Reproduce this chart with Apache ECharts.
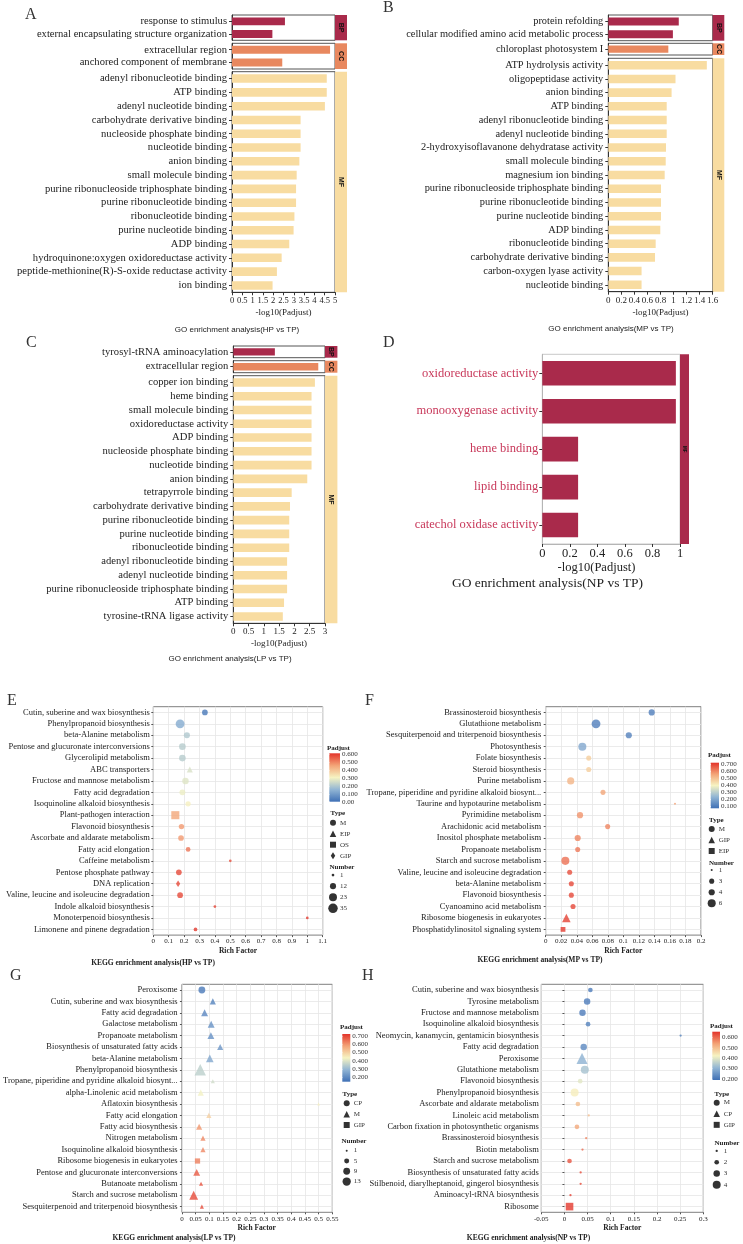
<!DOCTYPE html>
<html>
<head>
<meta charset="utf-8">
<script src="https://cdn.jsdelivr.net/npm/echarts@6/dist/echarts.min.js"></script>
<style>
html,body{margin:0;padding:0;background:#fff}
#main{width:743px;height:1244px}
</style>
</head>
<body>
<div id="main"></div>
<script>
// ---- GO data (-log10 Padjust) ----
var goA_BP_terms = ['response to stimulus', 'external encapsulating structure organization'];
var goA_BP_vals = [2.57, 1.96];
var goA_CC_terms = ['extracellular region', 'anchored component of membrane'];
var goA_CC_vals = [4.76, 2.44];
var goA_MF_terms = ['adenyl ribonucleotide binding', 'ATP binding', 'adenyl nucleotide binding', 'carbohydrate derivative binding',
  'nucleoside phosphate binding', 'nucleotide binding', 'anion binding', 'small molecule binding',
  'purine ribonucleoside triphosphate binding', 'purine ribonucleotide binding', 'ribonucleotide binding',
  'purine nucleotide binding', 'ADP binding', 'hydroquinone:oxygen oxidoreductase activity',
  'peptide-methionine(R)-S-oxide reductase activity', 'ion binding'];
var goA_MF_vals = [4.6, 4.6, 4.51, 3.33, 3.33, 3.33, 3.27, 3.14, 3.11, 3.11, 3.03, 2.99, 2.78, 2.41, 2.18, 1.97];

var goB_BP_terms = ['protein refolding', 'cellular modified amino acid metabolic process'];
var goB_BP_vals = [1.08, 0.99];
var goB_CC_terms = ['chloroplast photosystem I'];
var goB_CC_vals = [0.92];
var goB_MF_terms = ['ATP hydrolysis activity', 'oligopeptidase activity', 'anion binding', 'ATP binding',
  'adenyl ribonucleotide binding', 'adenyl nucleotide binding', '2-hydroxyisoflavanone dehydratase activity',
  'small molecule binding', 'magnesium ion binding', 'purine ribonucleoside triphosphate binding',
  'purine ribonucleotide binding', 'purine nucleotide binding', 'ADP binding', 'ribonucleotide binding',
  'carbohydrate derivative binding', 'carbon-oxygen lyase activity', 'nucleotide binding'];
var goB_MF_vals = [1.51, 1.03, 0.97, 0.895, 0.895, 0.895, 0.884, 0.88, 0.864, 0.808, 0.808, 0.808, 0.797, 0.726, 0.716, 0.51, 0.51];

var goC_BP_terms = ['tyrosyl-tRNA aminoacylation'];
var goC_BP_vals = [1.36];
var goC_CC_terms = ['extracellular region'];
var goC_CC_vals = [2.78];
var goC_MF_terms = ['copper ion binding', 'heme binding', 'small molecule binding', 'oxidoreductase activity',
  'ADP binding', 'nucleoside phosphate binding', 'nucleotide binding', 'anion binding', 'tetrapyrrole binding',
  'carbohydrate derivative binding', 'purine ribonucleotide binding', 'purine nucleotide binding',
  'ribonucleotide binding', 'adenyl ribonucleotide binding', 'adenyl nucleotide binding',
  'purine ribonucleoside triphosphate binding', 'ATP binding', 'tyrosine-tRNA ligase activity'];
var goC_MF_vals = [2.67, 2.56, 2.56, 2.56, 2.56, 2.56, 2.56, 2.42, 1.91, 1.855, 1.83, 1.83, 1.83, 1.76, 1.76, 1.76, 1.66, 1.62];

var goD_MF_terms = ['oxidoreductase activity', 'monooxygenase activity', 'heme binding', 'lipid binding', 'catechol oxidase activity'];
var goD_MF_vals = [0.97, 0.97, 0.26, 0.26, 0.26];

// ---- KEGG data ----
var keggE_terms = ['Cutin, suberine and wax biosynthesis', 'Phenylpropanoid biosynthesis', 'beta-Alanine metabolism',
  'Pentose and glucuronate interconversions', 'Glycerolipid metabolism', 'ABC transporters', 'Fructose and mannose metabolism',
  'Fatty acid degradation', 'Isoquinoline alkaloid biosynthesis', 'Plant-pathogen interaction', 'Flavonoid biosynthesis',
  'Ascorbate and aldarate metabolism', 'Fatty acid elongation', 'Caffeine metabolism', 'Pentose phosphate pathway',
  'DNA replication', 'Valine, leucine and isoleucine degradation', 'Indole alkaloid biosynthesis',
  'Monoterpenoid biosynthesis', 'Limonene and pinene degradation'];
var keggE_rich = [0.335, 0.174, 0.218, 0.189, 0.189, 0.237, 0.209, 0.189, 0.226, 0.143, 0.183, 0.18, 0.226, 0.5, 0.166, 0.161, 0.174, 0.4, 1.0, 0.274];
var keggE_padj = [0.02, 0.13, 0.2, 0.21, 0.21, 0.26, 0.27, 0.29, 0.31, 0.45, 0.47, 0.47, 0.52, 0.57, 0.58, 0.58, 0.58, 0.59, 0.6, 0.6];
var keggE_count = [10, 30, 12, 15, 15, 5, 14, 11, 8, 27, 9, 10, 6, 1, 10, 10, 10, 1, 1, 3];
var keggE_type = ['M', 'M', 'M', 'M', 'M', 'EIP', 'M', 'M', 'M', 'OS', 'M', 'M', 'M', 'M', 'M', 'GIP', 'M', 'M', 'M', 'M'];
var keggE_types = ['M', 'EIP', 'OS', 'GIP'];
var keggE_numTicks = [1, 12, 23, 35];
var keggE_padjTicks = [0, 0.1, 0.2, 0.3, 0.4, 0.5, 0.6];

var keggF_terms = ['Brassinosteroid biosynthesis', 'Glutathione metabolism', 'Sesquiterpenoid and triterpenoid biosynthesis',
  'Photosynthesis', 'Folate biosynthesis', 'Steroid biosynthesis', 'Purine metabolism',
  'Tropane, piperidine and pyridine alkaloid biosynt...', 'Taurine and hypotaurine metabolism', 'Pyrimidine metabolism',
  'Arachidonic acid metabolism', 'Inositol phosphate metabolism', 'Propanoate metabolism', 'Starch and sucrose metabolism',
  'Valine, leucine and isoleucine degradation', 'beta-Alanine metabolism', 'Flavonoid biosynthesis',
  'Cyanoamino acid metabolism', 'Ribosome biogenesis in eukaryotes', 'Phosphatidylinositol signaling system'];
var keggF_rich = [0.1365, 0.0648, 0.107, 0.0472, 0.0554, 0.0554, 0.0322, 0.0738, 0.1665, 0.0442, 0.0798, 0.0412, 0.0412, 0.0253, 0.0309, 0.033, 0.033, 0.0352, 0.0266, 0.0223];
var keggF_padj = [0.1, 0.1, 0.11, 0.2, 0.47, 0.47, 0.52, 0.55, 0.56, 0.58, 0.6, 0.6, 0.62, 0.63, 0.68, 0.69, 0.69, 0.69, 0.7, 0.71];
var keggF_count = [4, 7, 4, 6, 3, 3, 5, 3, 1, 4, 3, 4, 3, 6, 3, 3, 3, 3, 4, 3];
var keggF_type = ['M', 'M', 'M', 'M', 'M', 'M', 'M', 'M', 'M', 'M', 'M', 'M', 'M', 'M', 'M', 'M', 'M', 'M', 'GIP', 'EIP'];
var keggF_types = ['M', 'GIP', 'EIP'];
var keggF_numTicks = [1, 3, 4, 6];
var keggF_padjTicks = [0.1, 0.2, 0.3, 0.4, 0.5, 0.6, 0.7];

var keggG_terms = ['Peroxisome', 'Cutin, suberine and wax biosynthesis', 'Fatty acid degradation', 'Galactose metabolism',
  'Propanoate metabolism', 'Biosynthesis of unsaturated fatty acids', 'beta-Alanine metabolism', 'Phenylpropanoid biosynthesis',
  'Tropane, piperidine and pyridine alkaloid biosynt...', 'alpha-Linolenic acid metabolism', 'Aflatoxin biosynthesis',
  'Fatty acid elongation', 'Fatty acid biosynthesis', 'Nitrogen metabolism', 'Isoquinoline alkaloid biosynthesis',
  'Ribosome biogenesis in eukaryotes', 'Pentose and glucuronate interconversions', 'Butanoate metabolism',
  'Starch and sucrose metabolism', 'Sesquiterpenoid and triterpenoid biosynthesis'];
var keggG_rich = [0.073, 0.113, 0.083, 0.107, 0.106, 0.14, 0.102, 0.067, 0.113, 0.069, 0.5, 0.0985, 0.063, 0.077, 0.077, 0.057, 0.054, 0.07, 0.043, 0.073];
var keggG_padj = [0.16, 0.18, 0.19, 0.21, 0.21, 0.22, 0.26, 0.35, 0.38, 0.43, 0.44, 0.5, 0.6, 0.62, 0.62, 0.63, 0.68, 0.69, 0.7, 0.7];
var keggG_count = [9, 4, 5, 5, 5, 4, 6, 13, 2, 4, 1, 3, 4, 3, 3, 6, 5, 2, 8, 2];
var keggG_type = ['CP', 'M', 'M', 'M', 'M', 'M', 'M', 'M', 'M', 'M', 'M', 'M', 'M', 'M', 'M', 'GIP', 'M', 'M', 'M', 'M'];
var keggG_types = ['CP', 'M', 'GIP'];
var keggG_numTicks = [1, 5, 9, 13];
var keggG_padjTicks = [0.2, 0.3, 0.4, 0.5, 0.6, 0.7];

var keggH_terms = ['Cutin, suberine and wax biosynthesis', 'Tyrosine metabolism', 'Fructose and mannose metabolism',
  'Isoquinoline alkaloid biosynthesis', 'Neomycin, kanamycin, gentamicin biosynthesis', 'Fatty acid degradation',
  'Peroxisome', 'Glutathione metabolism', 'Flavonoid biosynthesis', 'Phenylpropanoid biosynthesis',
  'Ascorbate and aldarate metabolism', 'Linoleic acid metabolism', 'Carbon fixation in photosynthetic organisms',
  'Brassinosteroid biosynthesis', 'Biotin metabolism', 'Starch and sucrose metabolism',
  'Biosynthesis of unsaturated fatty acids', 'Stilbenoid, diarylheptanoid, gingerol biosynthesis',
  'Aminoacyl-tRNA biosynthesis', 'Ribosome'];
var keggH_rich = [0.056, 0.049, 0.039, 0.051, 0.251, 0.0416, 0.038, 0.044, 0.034, 0.022, 0.029, 0.0525, 0.027, 0.047, 0.039, 0.011, 0.035, 0.035, 0.013, 0.011];
var keggH_padj = [0.21, 0.21, 0.21, 0.22, 0.22, 0.23, 0.3, 0.33, 0.4, 0.43, 0.5, 0.5, 0.53, 0.57, 0.6, 0.62, 0.63, 0.63, 0.64, 0.65];
var keggH_count = [2, 3, 3, 2, 1, 3, 4, 4, 2, 4, 2, 1, 2, 1, 1, 2, 1, 1, 1, 4];
var keggH_type = ['M', 'M', 'M', 'M', 'M', 'M', 'CP', 'M', 'M', 'M', 'M', 'M', 'M', 'M', 'M', 'M', 'M', 'M', 'M', 'GIP'];
var keggH_types = ['M', 'CP', 'GIP'];
var keggH_numTicks = [1, 2, 3, 4];
var keggH_padjTicks = [0.2, 0.3, 0.4, 0.5, 0.6];

// ---- styles ----
var SERIF = '"Liberation Serif", "Times New Roman", serif';
var SANS = '"Liberation Sans", Arial, sans-serif';
var C_BP = '#A92A4B', C_CC = '#E8885F', C_MF = '#F8DCA1';
var PAL = ['#3F70B5', '#91B5D4', '#F6F3C2', '#F3A376', '#E3342B'];
var SHAPES = ['circle', 'triangle', 'rect', 'diamond'];
var SHAPE_SCALE = [1, 1.38, 0.95, 1];

var grids = [], xAxes = [], yAxes = [], series = [], graphics = [], visualMaps = [];

function addGrid(g){ grids.push(g); return grids.length - 1; }

function text(x, y, s, size, o){
  o = o || {};
  graphics.push({type: 'text', x: x, y: y, rotation: o.rot || 0, silent: true,
    style: {text: s, font: (o.bold ? 'bold ' : '') + size + 'px ' + (o.family || SERIF),
      fill: o.color || '#222', align: o.align || 'left', verticalAlign: 'middle'}});
}

function shapeSize(k, d){
  d = d * SHAPE_SCALE[k];
  return k === 3 ? [d * 0.75, d * 1.15] : d;
}

// GO bar panel split in facets (BP / CC / MF)
function goPanel(L, facets){
  facets.forEach(function(f, k){
    var last = k === facets.length - 1;
    var top = L.tops[k], h = L.heights[k];
    var gi = addGrid({left: L.left, top: top, width: L.width, height: h, show: true,
      borderColor: L.border || '#555', borderWidth: 1});
    xAxes.push({gridIndex: gi, type: 'value', min: 0, max: L.max, interval: L.interval, show: last,
      axisLine: {show: true, lineStyle: {color: L.axisColor || '#333'}},
      axisTick: {show: true, length: 3, lineStyle: {color: '#333'}},
      axisLabel: {margin: L.tickMargin, fontFamily: SERIF, fontSize: L.tickSize, color: '#222'},
      splitLine: {show: false}});
    yAxes.push({gridIndex: gi, type: 'category', inverse: true, data: f.terms,
      axisLine: {show: true, lineStyle: {color: L.axisColor || '#333'}},
      axisTick: {show: true, length: 3, alignWithLabel: true, interval: 0, lineStyle: {color: '#333'}},
      axisLabel: {interval: 0, margin: L.labelMargin, fontFamily: SERIF, fontSize: L.labelSize, color: L.labelColor || '#222'},
      splitLine: {show: false}});
    series.push({type: 'bar', xAxisIndex: xAxes.length - 1, yAxisIndex: yAxes.length - 1, data: f.vals,
      barWidth: L.barWidth, itemStyle: {color: f.color}, silent: true});
    graphics.push({type: 'rect', silent: true, shape: {x: L.left + L.width, y: top, width: L.strip, height: h},
      style: {fill: f.color}});
    text(L.left + L.width + L.strip / 2, top + h / 2, f.name, L.stripSize,
      {bold: true, family: SANS, color: '#111', align: 'center', rot: -Math.PI / 2});
  });
}

// KEGG bubble panel with colour bar, type and number legends
function keggPanel(L, d){
  var gi = addGrid({left: L.left, top: L.top, width: L.width, height: L.height, show: true,
    borderColor: '#7f7f7f', borderWidth: 1});
  var xi = xAxes.length;
  xAxes.push({gridIndex: gi, type: 'value', min: L.xmin, max: L.xmax, interval: L.xint,
    axisLine: {show: false}, axisTick: {show: true, length: 2, lineStyle: {color: '#555'}},
    axisLabel: {margin: 3, fontFamily: SERIF, fontSize: 7, color: '#222'},
    splitLine: {show: true, lineStyle: {color: '#e6e6e6', width: 0.8}}});
  var yi = yAxes.length;
  yAxes.push({gridIndex: gi, type: 'category', inverse: true, data: d.terms,
    axisLine: {show: false},
    axisTick: {show: true, length: 2, alignWithLabel: true, interval: 0, lineStyle: {color: '#555'}},
    axisLabel: {interval: 0, margin: L.labelMargin, fontFamily: SERIF, fontSize: 8.5, color: '#222'},
    splitLine: {show: true, alignWithLabel: true, interval: 0, lineStyle: {color: '#e6e6e6', width: 0.8}}});
  var idx = [];
  d.types.forEach(function(t, k){
    var pts = [];
    d.terms.forEach(function(term, i){
      if (d.type[i] === t) pts.push([d.rich[i], term, d.padj[i], d.count[i]]);
    });
    idx.push(series.length);
    series.push({type: 'scatter', name: t, xAxisIndex: xi, yAxisIndex: yi, data: pts, symbol: SHAPES[k], silent: true,
      symbolSize: function(v){ return shapeSize(k, d.size(v[3])); }});
  });
  visualMaps.push({type: 'continuous', show: false, seriesIndex: idx, dimension: 2,
    min: d.cmin, max: d.cmax, inRange: {color: PAL}});

  // colour bar
  var cb = L.cb;
  var cg = addGrid({left: cb.left, top: cb.top, width: cb.w, height: cb.h, show: true, borderWidth: 0,
    backgroundColor: new echarts.graphic.LinearGradient(0, 1, 0, 0, PAL.map(function(c, i){
      return {offset: i / (PAL.length - 1), color: c};
    }))});
  xAxes.push({gridIndex: cg, type: 'value', show: false, min: 0, max: 1});
  yAxes.push({gridIndex: cg, type: 'value', position: 'right', min: d.cmin, max: d.cmax,
    axisLine: {show: false},
    axisTick: {show: true, inside: true, length: 2, customValues: d.cticks, lineStyle: {color: '#fff'}},
    axisLabel: {customValues: d.cticks, margin: 2, fontFamily: SERIF, fontSize: 7, color: '#333',
      formatter: function(v){ return v === 0 ? '0.00' : v.toFixed(3); }},
    splitLine: {show: false}});
  text(L.padjT[0], L.padjT[1], 'Padjust', 7, {bold: true});

  // type legend
  var tb = L.typeBox;
  var tg = addGrid({left: tb.x - 5, top: tb.top, width: 10, height: d.types.length * tb.step});
  xAxes.push({gridIndex: tg, type: 'value', show: false, min: 0, max: 1});
  yAxes.push({gridIndex: tg, type: 'category', inverse: true, position: 'right', data: d.types,
    axisLine: {show: false}, axisTick: {show: false},
    axisLabel: {interval: 0, margin: 2, fontFamily: SERIF, fontSize: 7, color: '#333'}, splitLine: {show: false}});
  series.push({type: 'scatter', xAxisIndex: xAxes.length - 1, yAxisIndex: yAxes.length - 1, silent: true,
    itemStyle: {color: '#000'},
    data: d.types.map(function(t, k){
      return {value: [0.5, t], symbol: SHAPES[k], symbolSize: k === 3 ? [4.5, 7] : (k === 1 ? 6.5 : 6)};
    })});
  text(L.typeT[0], L.typeT[1], 'Type', 7, {bold: true});

  // number legend
  var nb = L.numBox;
  var ng = addGrid({left: nb.x - 5, top: nb.top, width: 10, height: d.numTicks.length * nb.step});
  xAxes.push({gridIndex: ng, type: 'value', show: false, min: 0, max: 1});
  yAxes.push({gridIndex: ng, type: 'category', inverse: true, position: 'right', data: d.numTicks.map(String),
    axisLine: {show: false}, axisTick: {show: false},
    axisLabel: {interval: 0, margin: 2, fontFamily: SERIF, fontSize: 7, color: '#333'}, splitLine: {show: false}});
  series.push({type: 'scatter', xAxisIndex: xAxes.length - 1, yAxisIndex: yAxes.length - 1, silent: true,
    itemStyle: {color: '#000'},
    data: d.numTicks.map(function(n){ return {value: [0.5, String(n)], symbolSize: d.size(n)}; })});
  text(L.numT[0], L.numT[1], 'Number', 7, {bold: true});

  text(L.left + L.width / 2, L.richY, 'Rich Factor', 7.5, {bold: true, align: 'center'});
  text(L.titleX, L.titleY, L.title, 7.5, {bold: true, align: 'center'});
}

// ---- GO panels ----
goPanel({left: 232, width: 103, strip: 12, max: 5, interval: 0.5, tops: [15, 43.3, 71.7], heights: [25.3, 25.7, 220.6],
  tickSize: 8.5, tickMargin: 4, labelSize: 10.6, labelMargin: 5, barWidth: '62%', stripSize: 7}, [
  {name: 'BP', terms: goA_BP_terms, vals: goA_BP_vals, color: C_BP},
  {name: 'CC', terms: goA_CC_terms, vals: goA_CC_vals, color: C_CC},
  {name: 'MF', terms: goA_MF_terms, vals: goA_MF_vals, color: C_MF}]);
goPanel({left: 608.3, width: 104.4, strip: 11.6, max: 1.6, interval: 0.2, tops: [15, 43.3, 58.3], heights: [25.7, 11.7, 233.4],
  tickSize: 9, tickMargin: 4, labelSize: 10.4, labelMargin: 5, barWidth: '62%', stripSize: 7}, [
  {name: 'BP', terms: goB_BP_terms, vals: goB_BP_vals, color: C_BP},
  {name: 'CC', terms: goB_CC_terms, vals: goB_CC_vals, color: C_CC},
  {name: 'MF', terms: goB_MF_terms, vals: goB_MF_vals, color: C_MF}]);
goPanel({left: 233.3, width: 91.7, strip: 12.4, max: 3, interval: 0.5, tops: [346, 360.7, 375.7], heights: [11.7, 12, 247.6],
  tickSize: 9, tickMargin: 4, labelSize: 10.6, labelMargin: 5, barWidth: '62%', stripSize: 7}, [
  {name: 'BP', terms: goC_BP_terms, vals: goC_BP_vals, color: C_BP},
  {name: 'CC', terms: goC_CC_terms, vals: goC_CC_vals, color: C_CC},
  {name: 'MF', terms: goC_MF_terms, vals: goC_MF_vals, color: C_MF}]);
goPanel({left: 542.3, width: 137.7, strip: 9, max: 1, interval: 0.2, tops: [354.3], heights: [189.7],
  tickSize: 12.5, tickMargin: 3, labelSize: 12.5, labelMargin: 4, barWidth: '65%', stripSize: 4.5,
  border: '#c8c8c8', axisColor: '#b5b5b5', labelColor: '#C8385A'}, [
  {name: 'MF', terms: goD_MF_terms, vals: goD_MF_vals, color: C_BP}]);

text(283.5, 313, '-log10(Padjust)', 9, {align: 'center'});
text(237, 330, 'GO enrichment analysis(HP vs TP)', 8, {family: SANS, align: 'center'});
text(660.5, 313, '-log10(Padjust)', 9, {align: 'center'});
text(611, 329, 'GO enrichment analysis(MP vs TP)', 8, {family: SANS, align: 'center'});
text(279, 644, '-log10(Padjust)', 9, {align: 'center'});
text(230, 659, 'GO enrichment analysis(LP vs TP)', 8, {family: SANS, align: 'center'});
text(596.5, 568, '-log10(Padjust)', 12.5, {align: 'center'});
text(547.5, 583, 'GO enrichment analysis(NP vs TP)', 13.5, {align: 'center'});

// ---- KEGG panels ----
keggPanel({left: 153.3, top: 706.7, width: 169.4, height: 228.4, xmin: 0, xmax: 1.1, xint: 0.1, labelMargin: 3.5,
  cb: {left: 329.3, top: 753.3, w: 10.7, h: 48.4}, padjT: [327, 748],
  typeBox: {x: 333, top: 817.2, step: 11}, typeT: [330.5, 813],
  numBox: {x: 333, top: 869.5, step: 11.1}, numT: [329.5, 866.7],
  richY: 951, titleX: 153, titleY: 963, title: 'KEGG enrichment analysis(HP vs TP)'},
  {terms: keggE_terms, rich: keggE_rich, padj: keggE_padj, count: keggE_count, type: keggE_type, types: keggE_types,
   numTicks: keggE_numTicks, cticks: keggE_padjTicks, cmin: 0, cmax: 0.61,
   size: function(n){ return 1.32 + 1.38 * Math.sqrt(n); }});
keggPanel({left: 545.7, top: 706.7, width: 155.3, height: 228.4, xmin: 0, xmax: 0.2, xint: 0.02, labelMargin: 4.5,
  cb: {left: 710.7, top: 762.7, w: 8.3, h: 45.6}, padjT: [708, 755],
  typeBox: {x: 711.7, top: 823.5, step: 11}, typeT: [709, 820],
  numBox: {x: 711.7, top: 864.5, step: 11.1}, numT: [709, 862.7],
  richY: 951, titleX: 540, titleY: 960, title: 'KEGG enrichment analysis(MP vs TP)'},
  {terms: keggF_terms, rich: keggF_rich, padj: keggF_padj, count: keggF_count, type: keggF_type, types: keggF_types,
   numTicks: keggF_numTicks, cticks: keggF_padjTicks, cmin: 0.067, cmax: 0.72,
   size: function(n){ return -2.1 + 4.14 * Math.sqrt(n); }});
keggPanel({left: 181, top: 984.3, width: 151.3, height: 228, xmin: 0, xmax: 0.55, xint: 0.05, labelMargin: 4.3,
  cb: {left: 342.3, top: 1034, w: 8, h: 47.7}, padjT: [340, 1027.3],
  typeBox: {x: 346.7, top: 1097.9, step: 10.85}, typeT: [342.5, 1094],
  numBox: {x: 346.7, top: 1145.5, step: 10.3}, numT: [341.5, 1140.7],
  richY: 1228.3, titleX: 174, titleY: 1237.7, title: 'KEGG enrichment analysis(LP vs TP)'},
  {terms: keggG_terms, rich: keggG_rich, padj: keggG_padj, count: keggG_count, type: keggG_type, types: keggG_types,
   numTicks: keggG_numTicks, cticks: keggG_padjTicks, cmin: 0.14, cmax: 0.73,
   size: function(n){ return -0.42 + 2.42 * Math.sqrt(n); }});
keggPanel({left: 541.3, top: 984.3, width: 162, height: 228, xmin: -0.05, xmax: 0.3, xint: 0.05, labelMargin: 2.5,
  cb: {left: 712.3, top: 1031.7, w: 7.7, h: 48.3}, padjT: [710, 1026],
  typeBox: {x: 716.7, top: 1097.1, step: 11.1}, typeT: [714.5, 1094],
  numBox: {x: 716.7, top: 1145.3, step: 11.3}, numT: [714.5, 1142.7],
  richY: 1228.3, titleX: 528.5, titleY: 1237.7, title: 'KEGG enrichment analysis(NP vs TP)'},
  {terms: keggH_terms, rich: keggH_rich, padj: keggH_padj, count: keggH_count, type: keggH_type, types: keggH_types,
   numTicks: keggH_numTicks, cticks: keggH_padjTicks, cmin: 0.19, cmax: 0.655,
   size: function(n){ return -3.4 + 5.7 * Math.sqrt(n); }});

// panel letters
[['A', 25, 15], ['B', 383, 8], ['C', 26, 343], ['D', 383, 343],
 ['E', 7, 701], ['F', 365, 701], ['G', 10, 976], ['H', 362, 976]].forEach(function(l){
  text(l[1], l[2], l[0], 16, {color: '#333'});
});

var chart = echarts.init(document.getElementById('main'));
chart.setOption({
  animation: false,
  backgroundColor: '#fff',
  grid: grids,
  xAxis: xAxes,
  yAxis: yAxes,
  visualMap: visualMaps,
  series: series,
  graphic: graphics
});
</script>
</body>
</html>
